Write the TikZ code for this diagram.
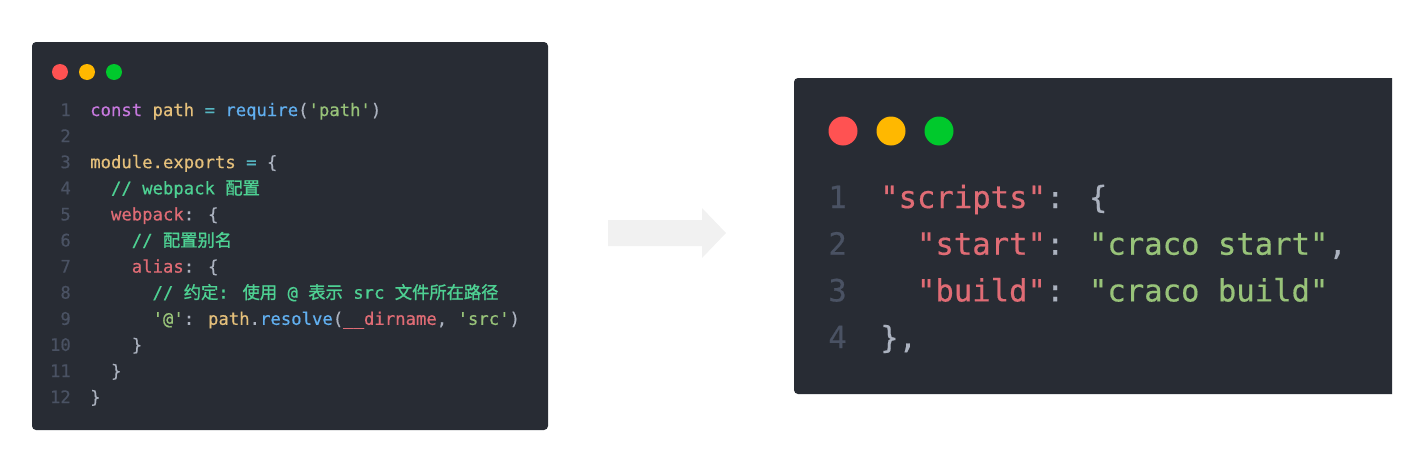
\documentclass[tikz,border=0pt]{standalone}
\usepackage{fontspec}
\newfontfamily\codefont{DejaVu Sans Mono}[FakeBold=0.5]
\newfontfamily\cjk{Noto Sans CJK SC}[FakeBold=1.2]
\definecolor{panelbg}{HTML}{282C34}
\definecolor{lnum}{HTML}{4A5263}
\definecolor{cpur}{HTML}{C678DD}
\definecolor{cyel}{HTML}{E5C07B}
\definecolor{ccya}{HTML}{56B6C2}
\definecolor{cblu}{HTML}{61AFEF}
\definecolor{cgry}{HTML}{ABB2BF}
\definecolor{cstr}{HTML}{98C379}
\definecolor{cred}{HTML}{E06C75}
\definecolor{ccom}{HTML}{4ED193}
\definecolor{dotr}{HTML}{FF5252}
\definecolor{doto}{HTML}{FFB800}
\definecolor{dotg}{HTML}{00C92C}
\definecolor{arrowgray}{HTML}{F1F1F1}
\newcommand\tPur[1]{\textcolor{cpur}{#1}}
\newcommand\tYel[1]{\textcolor{cyel}{#1}}
\newcommand\tCya[1]{\textcolor{ccya}{#1}}
\newcommand\tBlu[1]{\textcolor{cblu}{#1}}
\newcommand\tGry[1]{\textcolor{cgry}{#1}}
\newcommand\tStr[1]{\textcolor{cstr}{#1}}
\newcommand\tRed[1]{\textcolor{cred}{#1}}
\newcommand\tCom[1]{\textcolor{ccom}{#1}}
\newcommand\zh[1]{{\cjk #1}}
\tikzset{
  panel/.style={fill=panelbg},
  smallcode/.style={inner sep=0pt, anchor=base west, font=\codefont\fontsize{17.27}{20}\selectfont},
  smallnum/.style={inner sep=0pt, anchor=base east, text=lnum, font=\codefont\fontsize{17.27}{20}\selectfont},
  bigcode/.style={inner sep=0pt, anchor=base west, font=\codefont\fontsize{30.6}{36}\selectfont},
  bignum/.style={inner sep=0pt, anchor=base east, text=lnum, font=\codefont\fontsize{30.6}{36}\selectfont},
}
\begin{document}
\begin{tikzpicture}[x=1pt,y=-1pt]
\useasboundingbox (0,0) rectangle (1412,466);
% left panel
\fill[panel, rounded corners=4pt] (32,42) rectangle (548,430);
\fill[dotr] (60,72) circle (8);
\fill[doto] (87,72) circle (8);
\fill[dotg] (114,72) circle (8);
\foreach \i in {1,...,12}{
  \node[smallnum] (ln\i) at (71,{116+(\i-1)*26.1}) {\i};
}
\node[smallcode] (c1) at (90,116) {\tPur{const} \tYel{path} \tCya{=} \tBlu{require}\tGry{(}\tStr{'path'}\tGry{)}};
\node[smallcode] (c3) at (90,168.2) {\tYel{module.exports} \tCya{=} \tGry{\{}};
\node[smallcode] (c4) at (110.8,194.3) {\tCom{// webpack \zh{配置}}};
\node[smallcode] (c5) at (110.8,220.4) {\tRed{webpack}\tGry{: \{}};
\node[smallcode] (c6) at (131.6,246.5) {\tCom{// \zh{配置别名}}};
\node[smallcode] (c7) at (131.6,272.6) {\tRed{alias}\tGry{: \{}};
\node[smallcode] (c8) at (152.4,298.7) {\tCom{// \zh{约定}: \zh{使用} @ \zh{表示} src \zh{文件所在路径}}};
\node[smallcode] (c9) at (152.4,324.8) {\tStr{'@'}\tGry{:} \tYel{path}\tGry{.}\tBlu{resolve}\tGry{(}\tRed{\_\_dirname}\tGry{,} \tStr{'src'}\tGry{)}};
\node[smallcode] (c10) at (131.6,350.9) {\tGry{\}}};
\node[smallcode] (c11) at (110.8,377.0) {\tGry{\}}};
\node[smallcode] (c12) at (90,403.1) {\tGry{\}}};
% arrow
\fill[arrowgray] (608,220) -- (702,220) -- (702,208) -- (726,233) -- (702,258) -- (702,246) -- (608,246) -- cycle;
% right panel
\fill[panel] (1392,78) {[rounded corners=4pt] -- (794,78) -- (794,394)} -- (1392,394) -- cycle;
\fill[dotr] (843,131) circle (14.5);
\fill[doto] (891,131) circle (14.5);
\fill[dotg] (939,131) circle (14.5);
\foreach \i in {1,...,4}{
  \node[bignum] (rn\i) at (847,{208+(\i-1)*46.7}) {\i};
}
\node[bigcode] (r1) at (880,208) {\tRed{"scripts"}\tGry{: \{}};
\node[bigcode] (r2) at (916.8,254.7) {\tRed{"start"}\tGry{:} \tStr{"craco start"}\tGry{,}};
\node[bigcode] (r3) at (916.8,301.4) {\tRed{"build"}\tGry{:} \tStr{"craco build"}};
\node[bigcode] (r4) at (880,348.1) {\tGry{\},}};
\end{tikzpicture}
\end{document}
